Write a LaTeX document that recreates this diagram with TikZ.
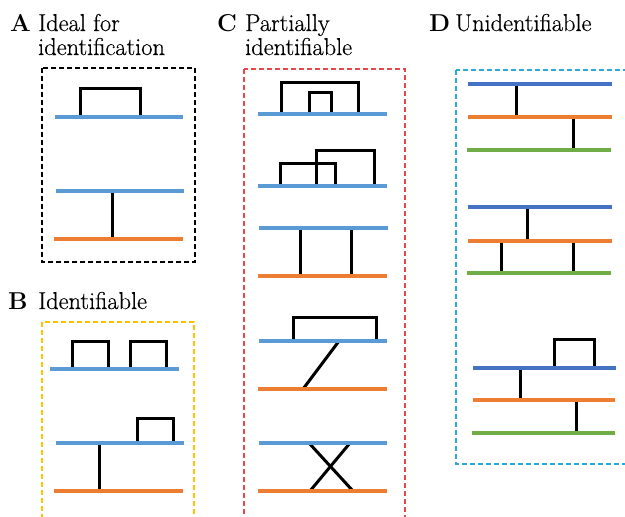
\documentclass[tikz,border=0pt]{standalone}
\usepackage{fontspec}
\setmainfont{Latin Modern Roman}
\newfontfamily\labfont{Latin Modern Roman}[FakeBold=0.45]
\definecolor{cblue}{HTML}{5B9BD5}
\definecolor{cdblue}{HTML}{4472C4}
\definecolor{corange}{HTML}{ED7D31}
\definecolor{cgreen}{HTML}{70AD47}
\definecolor{cgold}{HTML}{FFC000}
\definecolor{cred}{HTML}{E8474C}
\definecolor{ccyan}{HTML}{2FA6D6}
\begin{document}
\begin{tikzpicture}[x=1pt,y=-1pt]
\tikzset{
  bline/.style={line width=4pt, draw=cblue},
  dbline/.style={line width=4pt, draw=cdblue},
  oline/.style={line width=4pt, draw=corange},
  gline/.style={line width=4pt, draw=cgreen},
  conn/.style={line width=3pt, draw=black, line join=miter},
  frame/.style={line width=1.1pt, dash pattern=on 5pt off 3pt},
  lbl/.style={anchor=base west, inner sep=0pt, font=\labfont\fontsize{24.4}{26}\selectfont},
  blbl/.style={anchor=base west, inner sep=0pt, font=\fontsize{24.4}{26}\selectfont\bfseries}
}
\useasboundingbox (0,0) rectangle (625,517);
\clip (0,0) rectangle (625,517);
% ---------- labels
\node[blbl] (la) at (10,31) {A};
\node[lbl] (ta1) at (38,31) {Ideal for};
\node[lbl] (ta2) at (38,55) {identification};
\node[blbl] (lb) at (8,309) {B};
\node[lbl] (tb) at (38,309) {Identifiable};
\node[blbl] (lc) at (217,31) {C};
\node[lbl] (tc1) at (245,31) {Partially};
\node[lbl] (tc2) at (245,55) {identifiable};
\node[blbl] (ld) at (429,31) {D};
\node[lbl] (td) at (455,31) {Unidentifiable};
% ---------- frames
\draw[frame, black] (42,68) rectangle (195,262);
\draw[frame, cgold] (42,322) rectangle (194,530);
\draw[frame, cred] (244,69) rectangle (405,530);
\draw[frame, ccyan] (456,70) rectangle (640,464);
% ---------- A
\draw[conn] (80,117) |- (140,88) -- (140,117);
\draw[bline] (55,117) -- (183,117);
\draw[conn] (112,191) -- (112,239);
\draw[bline] (56,191) -- (184,191);
\draw[oline] (54,239) -- (183,239);
% ---------- B
\draw[conn] (72,369) |- (108,341) -- (108,369);
\draw[conn] (130,369) |- (166,341) -- (166,369);
\draw[bline] (50,369) -- (179,369);
\draw[conn] (137,443) |- (173,418) -- (173,443);
\draw[conn] (99,443) -- (99,491);
\draw[bline] (56,443) -- (184,443);
\draw[oline] (54,491) -- (183,491);
% ---------- C
\draw[conn] (281,114) |- (358,82) -- (358,114);
\draw[conn] (309,114) |- (331,92) -- (331,114);
\draw[bline] (258,114) -- (387,114);
\draw[conn] (280,186) |- (335,163) -- (335,186);
\draw[conn] (316,186) |- (374,150) -- (374,186);
\draw[bline] (258,186) -- (387,186);
\draw[conn] (300,228) -- (300,276);
\draw[conn] (351,228) -- (351,276);
\draw[bline] (259,228) -- (388,228);
\draw[oline] (258,276) -- (387,276);
\draw[conn] (293,341) |- (376,317) -- (376,341);
\draw[conn] (339,341) -- (303,389);
\draw[bline] (259,341) -- (387,341);
\draw[oline] (258,389) -- (387,389);
\draw[conn] (309,443) -- (353,491);
\draw[conn] (350,443) -- (310,491);
\draw[bline] (259,443) -- (387,443);
\draw[oline] (258,491) -- (387,491);
% ---------- D
\draw[conn] (516,84) -- (516,117);
\draw[conn] (573,117) -- (573,150);
\draw[dbline] (468,84) -- (612,84);
\draw[oline] (468,117) -- (612,117);
\draw[gline] (467,150) -- (611,150);
\draw[conn] (527,207) -- (527,241);
\draw[conn] (501,241) -- (501,273);
\draw[conn] (573,241) -- (573,273);
\draw[dbline] (468,207) -- (612,207);
\draw[oline] (468,241) -- (612,241);
\draw[gline] (467,273) -- (611,273);
\draw[conn] (554,368) |- (594,339) -- (594,368);
\draw[conn] (520,368) -- (520,400);
\draw[conn] (576,400) -- (576,433);
\draw[dbline] (473,368) -- (616,368);
\draw[oline] (473,400) -- (615,400);
\draw[gline] (472,433) -- (615,433);
\end{tikzpicture}
\end{document}
